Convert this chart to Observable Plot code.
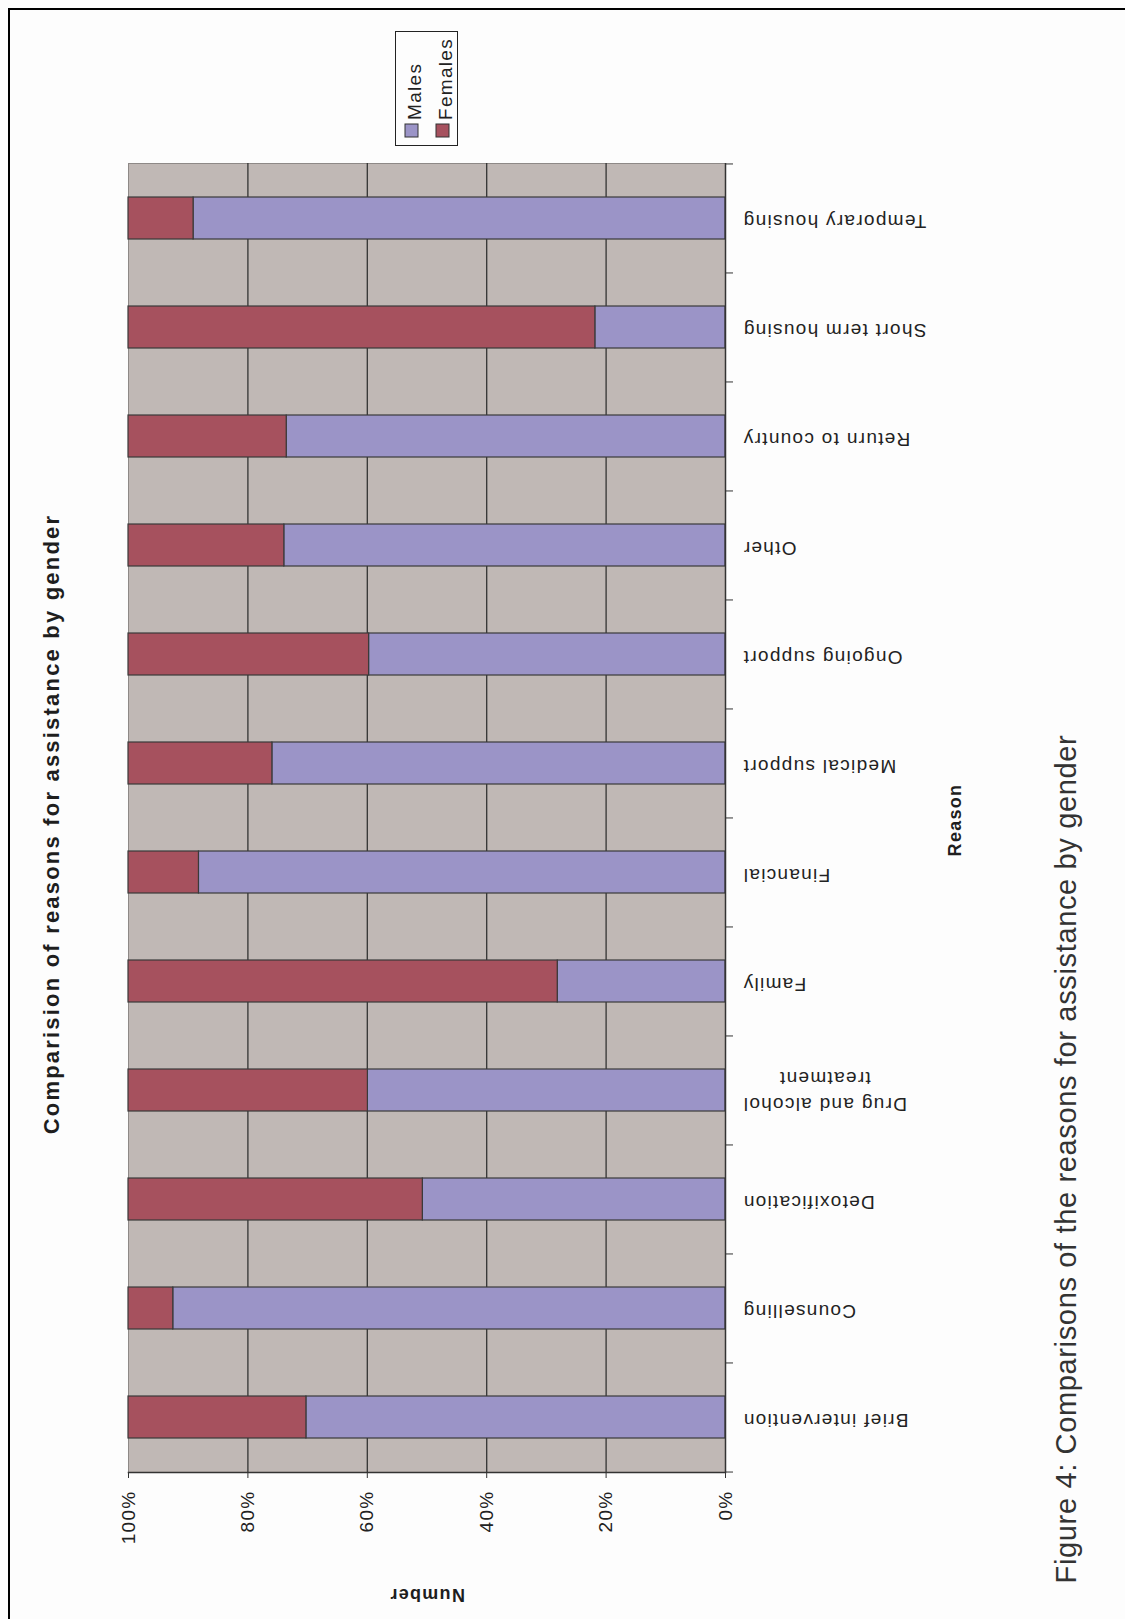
<!DOCTYPE html>
<html>
<head>
<meta charset="utf-8">
<script src="https://cdn.jsdelivr.net/npm/d3@7"></script>
<script src="https://cdn.jsdelivr.net/npm/@observablehq/plot@0.6"></script>
<style>
  html, body { margin: 0; padding: 0; width: 1125px; height: 1619px; overflow: hidden; background: #fdfdfd; }
  #page { position: relative; width: 1125px; height: 1619px; overflow: hidden; font-family: "Liberation Sans", Arial, sans-serif; }
  #border { position: absolute; left: 8px; top: 8px; width: 1300px; height: 1800px; border: 2px solid #000; }
  #chart { position: absolute; left: 0; top: 0; }
  #chart svg text { letter-spacing: 1.3px; }
  .rot { position: absolute; white-space: nowrap; line-height: 1; transform: translate(-50%, -50%) rotate(-90deg); }
  #title { font-weight: bold; font-size: 22px; letter-spacing: 2.2px; color: #1e1e1e; }
  #caption { font-size: 29px; letter-spacing: 0.65px; color: #333; }
  #legend { position: absolute; }
</style>
</head>
<body>
<div id="page">
  <div id="border"></div>
  <div id="chart"></div>
  <div id="title" class="rot" style="left:52px; top:824px;">Comparision of reasons for assistance by gender</div>
  <div id="caption" class="rot" style="left:1066px; top:1159px;">Figure 4: Comparisons of the reasons for assistance by gender</div>
  <svg id="legend" style="left:395px; top:31px;" width="63" height="115"></svg>
</div>
<script>
// Reasons for assistance, first category drawn at the bottom
const reasons = [
  "Brief intervention", "Counselling", "Detoxification", "Drug and alcohol\ntreatment",
  "Family", "Financial", "Medical support", "Ongoing support", "Other",
  "Return to country", "Short term housing", "Temporary housing"
];
// Share of each reason by gender (percent of the category)
const malesPct   = [70.2, 92.5, 50.7, 59.9, 28.1, 88.2, 75.9, 59.7, 73.9, 73.5, 21.8, 89.1];
const femalesPct = [29.8,  7.5, 49.3, 40.1, 71.9, 11.8, 24.1, 40.3, 26.1, 26.5, 78.2, 10.9];
const genders = ["Males", "Females"];
const genderColors = ["#9b94c7", "#a6515e"];
const xTicks = [0, 20, 40, 60, 80, 100];
const xTickLabels = ["0%", "20%", "40%", "60%", "80%", "100%"];
const xAxisTitle = "Number";
const yAxisTitle = "Reason";

// Long table for stacking: males first so they sit on the 0% side
const rows = [
  ...reasons.map((r, i) => ({reason: r, gender: "Males", pct: malesPct[i]})),
  ...reasons.map((r, i) => ({reason: r, gender: "Females", pct: femalesPct[i]}))
];

const W = 1125, H = 1619;
const mL = 128, mR = 400, mT = 163, mB = 147;
const step = (H - mT - mB) / reasons.length;
const labelFont = "19px 'Liberation Sans'";
const ls = 1.3;

// Width of the widest line of a wrapped label, used to centre its lines
const ctx = document.createElement("canvas").getContext("2d");
ctx.font = labelFont;
const lineWidth = s => ctx.measureText(s).width + ls * s.length;
const multi = reasons.filter(r => r.includes("\n"));
const single = reasons.filter(r => !r.includes("\n"));
const multiHalf = multi.length ? d3.max(multi[0].split("\n"), lineWidth) / 2 : 0;

const chart = Plot.plot({
  width: W,
  height: H,
  marginLeft: mL,
  marginRight: mR,
  marginTop: mT,
  marginBottom: mB,
  style: {fontFamily: "'Liberation Sans', Arial, sans-serif", fontSize: "19px", background: "transparent", overflow: "visible", color: "#222"},
  x: {domain: [0, 100], reverse: true},
  y: {domain: reasons.slice().reverse(), paddingInner: 0.615, paddingOuter: 0.3075},
  color: {domain: genders, range: genderColors},
  marks: [
    Plot.frame({fill: "#c0b8b5", stroke: "#8e8987"}),
    Plot.ruleX(xTicks.filter(v => v > 0 && v < 100), {stroke: "#333", strokeWidth: 1.3}),
    Plot.barX(rows, Plot.stackX({y: "reason", x: "pct", fill: "gender", stroke: "#3a3a3a", strokeWidth: 1.2})),
    Plot.ruleX([0], {stroke: "#333", strokeWidth: 1.5}),
    Plot.frame({anchor: "bottom", stroke: "#333", strokeWidth: 1.5}),
    // percent axis ticks and labels
    Plot.axisX({ticks: xTicks, tickSize: 6, tickFormat: () => "", label: null, stroke: "#333"}),
    Plot.text(xTicks, {x: d => d, text: (d, i) => xTickLabels[i], frameAnchor: "bottom", dy: 18, rotate: -90, textAnchor: "end", lineAnchor: "middle", fontSize: 19, fill: "#222"}),
    // category ticks sit between categories
    Plot.axisY({anchor: "right", tickSize: 7, tickFormat: () => "", label: null, dy: -step / 2, stroke: "#333"}),
    Plot.axisY({anchor: "right", ticks: [reasons[0]], tickSize: 7, tickFormat: () => "", label: null, dy: step / 2, stroke: "#333"}),
    // category labels
    Plot.text(single, {y: d => d, text: d => d, frameAnchor: "right", dx: 17, dy: 3, rotate: 180, textAnchor: "end", lineAnchor: "middle", fontSize: 19, fill: "#222"}),
    Plot.text(multi, {y: d => d, text: d => d, frameAnchor: "right", dx: 17 + multiHalf, dy: 3, rotate: 180, textAnchor: "middle", lineAnchor: "middle", lineHeight: 1.36, fontSize: 19, fill: "#222"}),
    // axis titles
    Plot.text([xAxisTitle], {text: d => d, frameAnchor: "bottom", dy: 122, rotate: 180, textAnchor: "middle", lineAnchor: "middle", fontSize: 18, fontWeight: "bold", fill: "#1e1e1e"}),
    Plot.text([yAxisTitle], {text: d => d, frameAnchor: "right", dx: 230, dy: 2, rotate: -90, textAnchor: "middle", lineAnchor: "middle", fontSize: 18, fontWeight: "bold", fill: "#1e1e1e"})
  ]
});
document.getElementById("chart").appendChild(chart);

// Legend box with swatches and rotated names
const leg = d3.select("#legend");
leg.append("rect").attr("x", 0.5).attr("y", 0.5).attr("width", 62).attr("height", 114)
  .attr("fill", "#fdfdfd").attr("stroke", "#222").attr("stroke-width", 1);
const item = leg.selectAll("g.item").data(genders).join("g")
  .attr("class", "item")
  .attr("transform", (d, i) => `translate(${16.5 + i * 31},0)`);
item.append("rect").attr("x", -6.5).attr("y", 93).attr("width", 13).attr("height", 13)
  .attr("fill", (d, i) => genderColors[i]).attr("stroke", "#333").attr("stroke-width", 1);
item.append("text")
  .attr("transform", "translate(3,89) rotate(-90)")
  .attr("dy", "0.35em")
  .attr("font-family", "'Liberation Sans', Arial, sans-serif")
  .attr("font-size", 19)
  .attr("letter-spacing", "1.3px")
  .attr("fill", "#222")
  .text(d => d);
</script>
</body>
</html>
